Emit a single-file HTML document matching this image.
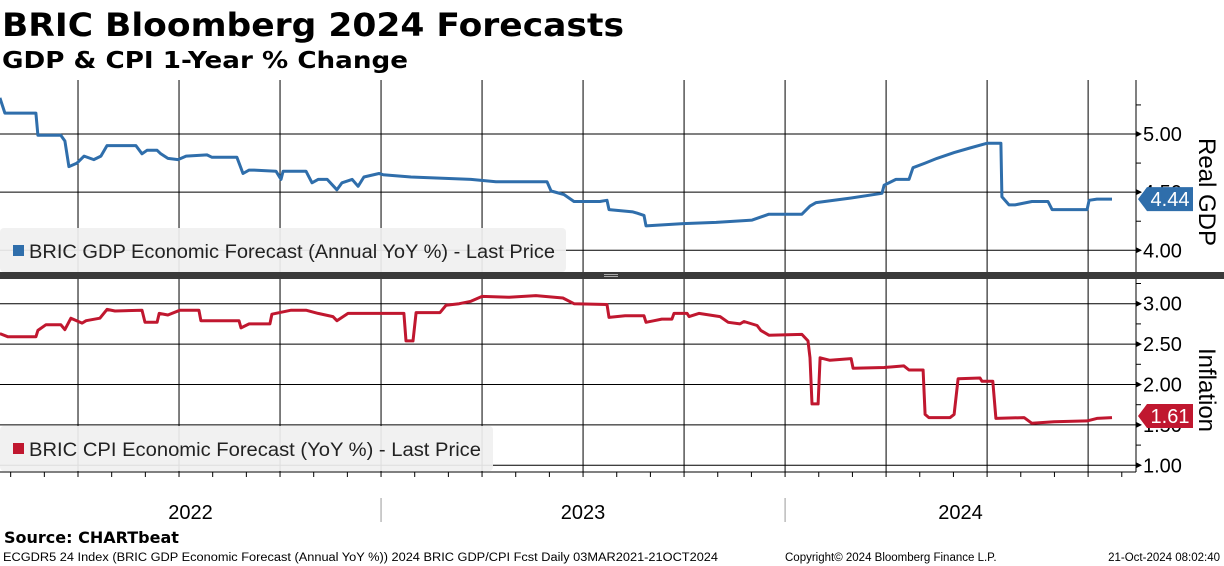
<!DOCTYPE html>
<html><head><meta charset="utf-8">
<style>
html,body{margin:0;padding:0;background:#fff;}
svg{display:block;font-family:"Liberation Sans",sans-serif;}
</style></head>
<body>
<svg id="chart" width="1224" height="566" viewBox="0 0 1224 566" xmlns="http://www.w3.org/2000/svg">
<text x="2" y="36" font-family="DejaVu Sans, sans-serif" font-weight="bold" font-size="32" textLength="622" lengthAdjust="spacingAndGlyphs">BRIC Bloomberg 2024 Forecasts</text>
<text x="2" y="68" font-family="DejaVu Sans, sans-serif" font-weight="bold" font-size="23" textLength="406" lengthAdjust="spacingAndGlyphs">GDP &amp; CPI 1-Year % Change</text>
<g id="grid"></g>
<g id="series"></g>
<g id="axes"></g>
<rect x="0" y="272" width="1224" height="7" fill="#3a3a3a"/>
<rect x="604" y="274" width="14" height="1" fill="#aaa"/><rect x="604" y="276" width="14" height="1" fill="#aaa"/>
<g>
<rect x="0" y="228" width="566" height="44" rx="4" fill="#f0f0f0" fill-opacity="0.92"/>
<rect x="13" y="245" width="11" height="11" fill="#2f6eab"/>
<text x="29" y="258" font-size="19" fill="#222" textLength="526" lengthAdjust="spacingAndGlyphs">BRIC GDP Economic Forecast (Annual YoY %) - Last Price</text>
</g>
<g>
<rect x="0" y="426" width="493" height="45" rx="4" fill="#f0f0f0" fill-opacity="0.92"/>
<rect x="13" y="443" width="11" height="11" fill="#c0172f"/>
<text x="29" y="456" font-size="19" fill="#222" textLength="452" lengthAdjust="spacingAndGlyphs">BRIC CPI Economic Forecast (YoY %) - Last Price</text>
</g>
<text x="4" y="543" font-family="DejaVu Sans, sans-serif" font-weight="bold" font-size="16">Source: CHARTbeat</text>
<text x="3" y="561" font-size="11.5" textLength="715" lengthAdjust="spacingAndGlyphs">ECGDR5 24 Index (BRIC GDP Economic Forecast (Annual YoY %)) 2024 BRIC GDP/CPI Fcst  Daily 03MAR2021-21OCT2024</text>
<text x="785" y="561" font-size="11.5">Copyright© 2024 Bloomberg Finance L.P.</text>
<text x="1220" y="561" font-size="11.5" text-anchor="end">21-Oct-2024 08:02:40</text>
</svg>
<script>
const gdpMonths=[0.68,0.83,1.75,1.81,2.49,2.61,2.73,2.97,3.18,3.47,3.68,3.86,4.72,4.90,5.05,5.35,5.46,5.67,5.97,6.21,6.83,6.98,7.72,7.90,8.08,8.23,8.88,9.03,9.09,9.77,9.95,10.13,10.40,10.69,10.84,11.14,11.32,11.49,11.94,12.06,12.89,14.67,15.41,16.93,17.05,17.43,17.73,18.50,18.71,18.77,19.48,19.60,19.81,19.87,20.97,21.95,23.02,23.52,24.50,24.74,24.92,25.96,26.88,26.94,27.29,27.68,27.80,28.16,28.51,29.02,29.49,29.99,30.41,30.44,30.65,30.83,31.33,31.81,31.93,32.97,33.03,33.26,33.71];
const gdpValues=[5.31,5.18,5.18,4.99,4.99,4.94,4.72,4.75,4.81,4.78,4.81,4.90,4.90,4.83,4.86,4.86,4.83,4.79,4.78,4.81,4.82,4.80,4.80,4.66,4.69,4.69,4.68,4.61,4.68,4.68,4.58,4.61,4.61,4.52,4.58,4.61,4.55,4.63,4.66,4.65,4.63,4.61,4.59,4.59,4.51,4.48,4.42,4.42,4.43,4.35,4.33,4.32,4.30,4.21,4.23,4.24,4.26,4.31,4.31,4.38,4.41,4.45,4.49,4.56,4.61,4.61,4.71,4.75,4.79,4.84,4.88,4.92,4.92,4.46,4.39,4.39,4.42,4.42,4.35,4.35,4.43,4.44,4.44];
const cpiMonths=[0.68,0.92,1.75,1.81,2.05,2.49,2.61,2.79,3.12,3.24,3.65,3.86,4.10,4.90,4.99,5.35,5.41,5.67,6.03,6.59,6.65,7.78,7.84,8.08,8.70,8.76,9.33,9.77,10.13,10.57,10.69,11.02,12.68,12.74,12.95,13.04,13.75,13.93,14.32,14.67,15.00,15.80,16.60,17.40,17.73,18.71,18.77,19.25,19.81,19.87,20.11,20.34,20.64,20.70,21.09,21.15,21.44,22.07,22.31,22.66,22.78,23.17,23.28,23.52,24.50,24.68,24.74,24.80,24.98,25.04,25.33,25.96,26.02,26.94,27.53,27.68,28.10,28.16,28.27,28.90,29.02,29.14,29.79,29.85,30.17,30.26,31.10,31.33,31.99,32.97,33.26,33.71];
const cpiValues=[2.63,2.59,2.59,2.67,2.74,2.74,2.68,2.82,2.76,2.79,2.82,2.93,2.91,2.92,2.77,2.77,2.88,2.86,2.92,2.92,2.79,2.79,2.70,2.75,2.75,2.87,2.92,2.92,2.88,2.84,2.79,2.88,2.88,2.54,2.54,2.89,2.89,2.98,3.00,3.03,3.09,3.08,3.10,3.07,3.00,2.99,2.83,2.85,2.85,2.77,2.79,2.81,2.81,2.88,2.88,2.84,2.88,2.84,2.77,2.75,2.78,2.73,2.67,2.61,2.62,2.54,2.33,1.76,1.76,2.33,2.30,2.32,2.20,2.21,2.23,2.18,2.18,1.63,1.59,1.59,1.63,2.07,2.08,2.04,2.04,1.58,1.59,1.52,1.54,1.55,1.58,1.59];
const gdpTicks=["4.00","4.50","5.00"];
const cpiTicks=["1.00","1.50","2.00","2.50","3.00"];
const yearLabels=["2022","2023","2024"];
const gdpLast="4.44", cpiLast="1.61";

const NS="http://www.w3.org/2000/svg";
const X=m=>-23+33.67*m;
const Yg=v=>134+(5-v)*116.3;
const Yc=v=>303.7+(3-v)*80.8;
const AX=1136;
function mk(tag,attrs,parent){const e=document.createElementNS(NS,tag);for(const k in attrs)e.setAttribute(k,attrs[k]);parent.appendChild(e);return e;}
const grid=document.getElementById('grid'),ser=document.getElementById('series'),axes=document.getElementById('axes');

for(let m=3;m<=34;m+=3){
  const l=mk('line',{x1:X(m),x2:X(m),y1:80,y2:472,stroke:'#000','stroke-width':1},grid);
  
  
}
function yAxis(ticks,Y,minor,top,bot){
  ticks.forEach(t=>{
    const v=parseFloat(t),y=Y(v);
    const g=mk('line',{x1:0,x2:AX,y1:y,y2:y,stroke:'#000','stroke-width':1},grid);
    
    
    mk('path',{d:`M${AX} ${y-3}L${AX+6} ${y}L${AX} ${y+3}Z`,fill:'#000'},axes);
    const tx=mk('text',{x:AX+7,y:y+7,'font-size':20},axes);
    tx.textContent=t;
    
    
  });
  const lo=parseFloat(ticks[0])-minor*4,hi=parseFloat(ticks[ticks.length-1])+minor*4;
  for(let v=lo;v<=hi+1e-9;v+=minor){const y=Y(v);if(y>top&&y<bot)mk('line',{x1:AX,x2:AX+5,y1:y,y2:y,stroke:'#000'},axes);}
}
yAxis(gdpTicks,Yg,0.25,80,272);
yAxis(cpiTicks,Yc,0.25,280,472);
mk('line',{x1:AX,x2:AX,y1:80,y2:472,stroke:'#000','stroke-width':1},axes);
mk('line',{x1:0,x2:AX,y1:472,y2:472,stroke:'#000','stroke-width':1},axes);
for(let m=0;m<=34;m++){const x=X(m);if(x>0&&x<AX)mk('line',{x1:x,x2:x,y1:472,y2:477,stroke:'#000'},axes);}
yearLabels.forEach((yl,i)=>{
  const s=Math.max(0,X(i*12)),e=Math.min(AX,X(i*12+12));
  const t=mk('text',{x:(s+e)/2,y:519,'font-size':20,'text-anchor':'middle'},axes);
  t.textContent=yl;
  
  
  if(i>0)mk('line',{x1:X(i*12),x2:X(i*12),y1:498,y2:522,stroke:'#999'},axes);
});
const t1=mk('text',{transform:'translate(1199,192) rotate(90)','font-size':24,'text-anchor':'middle'},axes);
t1.textContent='Real GDP';


const t2=mk('text',{transform:'translate(1199,390) rotate(90)','font-size':24,'text-anchor':'middle'},axes);
t2.textContent='Inflation';



function line(ms,vs,Y,color,name){
  const p=ms.map((m,i)=>X(m).toFixed(1)+','+Y(vs[i]).toFixed(1)).join(' ');
  const pl=mk('polyline',{points:p,fill:'none',stroke:color,'stroke-width':3,'stroke-linejoin':'round'},ser);
  
  
}
line(gdpMonths,gdpValues,Yg,'#2f6eab','gdp-line');
line(cpiMonths,cpiValues,Yc,'#c0172f','cpi-line');

function tag(val,Y,color,name){
  const y=Y(parseFloat(val));
  const g=mk('g',{},axes);
  
  
  mk('path',{d:`M1138 ${y}L1147 ${y-12}H1193V${y+12}H1147Z`,fill:color},g);
  const t=mk('text',{x:1170,y:y+7,'font-size':20,fill:'#fff','text-anchor':'middle'},g);
  t.textContent=val;
}
tag(gdpLast,Yg,'#2f6eab','gdp-last-value-tag');
tag(cpiLast,Yc,'#c0172f','cpi-last-value-tag');
</script>
</body></html>
